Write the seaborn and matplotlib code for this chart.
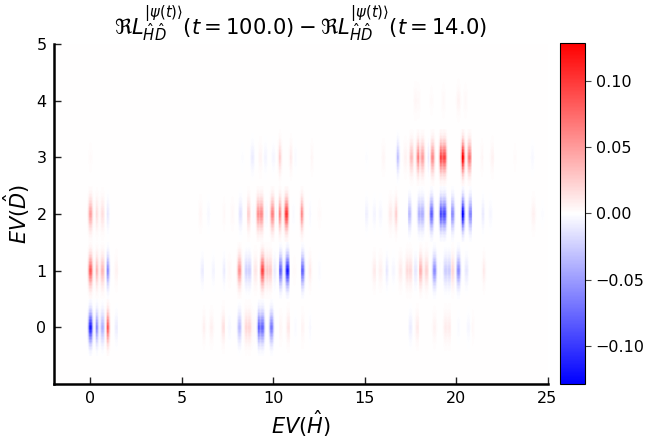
import numpy as np
import seaborn as sns
import matplotlib
matplotlib.use('Agg')
import matplotlib.pyplot as plt

# stripes: eigenvalue of H and amplitude, one pair of lists per D band
h_d0 = [0.0, 0.36, 0.64, 0.95, 1.4, 6.2, 6.6, 7.23, 7.6, 8.14, 8.5, 8.7, 8.9, 9.2, 9.4, 9.89, 10.38, 10.8, 11.2, 11.6, 12.0,
        17.48, 17.85, 18.8, 19.4, 19.6, 20.1, 20.67, 20.9]
v_d0 = [-0.12, -0.06, -0.04, 0.085, -0.01, 0.008, 0.007, 0.015, -0.004, -0.035, 0.02, 0.02, 0.003, -0.08, -0.08, -0.07, 0.004, 0.012, -0.003, 0.005, -0.004,
        -0.01, 0.01, 0.006, 0.009, 0.009, -0.003, -0.005, 0.003]

h_d1 = [0.0, 0.36, 0.64, 0.95, 1.4, 6.1, 6.7, 7.3, 7.6, 8.16, 8.5, 8.7, 9.0, 9.4, 9.65, 9.85, 10.05, 10.38, 10.75, 11.15, 11.58, 12.0, 12.5,
        15.48, 15.84, 16.2, 16.57, 16.94, 17.3, 17.5, 17.75, 18.03, 18.34, 18.8, 19.12, 19.4, 19.6, 19.8, 20.09, 20.54, 21.49]
v_d1 = [0.085, 0.036, 0.036, -0.06, 0.006, -0.01, -0.006, -0.01, 0.003, 0.055, -0.024, -0.024, 0.012, 0.095, 0.026, 0.026, -0.01, -0.08, -0.12, 0.002, -0.08, 0.01, -0.003,
        0.01, 0.007, -0.012, -0.005, 0.01, 0.018, 0.018, -0.012, 0.04, 0.022, -0.06, -0.003, -0.026, -0.026, 0.02, -0.06, -0.012, 0.01]

h_d2 = [0.0, 0.36, 0.64, 0.95, 6.0, 6.46, 7.3, 7.74, 8.2, 8.65, 8.9, 9.15, 9.35, 9.6, 9.94, 10.16, 10.36, 10.7, 11.1, 11.55, 12.0, 12.5,
        15.1, 15.5, 15.84, 16.4, 16.72, 17.45, 17.93, 18.13, 18.5, 18.67, 19.17, 19.37, 19.8, 20.34, 20.76, 21.45, 21.85, 24.2, 24.7]
v_d2 = [0.05, 0.016, 0.016, -0.012, 0.004, -0.004, 0.003, 0.003, -0.015, 0.024, -0.003, 0.06, 0.06, -0.005, 0.065, -0.005, 0.06, 0.105, -0.003, 0.06, -0.004, 0.002,
        -0.008, -0.006, -0.005, 0.01, 0.024, -0.035, -0.042, -0.042, 0.008, -0.085, -0.095, -0.095, -0.06, -0.135, -0.065, -0.012, -0.005, 0.007, -0.002]

h_d3 = [0.0, 8.3, 8.83, 9.29, 9.56, 10.0, 10.33, 10.93, 11.2, 12.1,
        15.1, 16.0, 16.79, 17.2, 17.57, 17.88, 18.17, 18.5, 18.72, 19.17, 19.37, 20.34, 20.72, 21.4, 21.95, 23.2, 24.13]
v_d3 = [0.002, -0.002, -0.01, 0.005, -0.006, -0.005, 0.024, 0.01, -0.003, 0.004,
        -0.002, 0.004, -0.032, 0.006, 0.034, 0.065, 0.05, -0.012, 0.06, 0.095, 0.095, 0.135, 0.07, 0.004, 0.006, 0.002, -0.004]

h_d4 = [17.75, 17.94, 18.67, 19.3, 20.12, 20.5]
v_d4 = [0.004, 0.003, 0.002, 0.003, 0.006, 0.003]

stripe_profile = [0.1, 0.4, 0.85, 1.0, 0.85, 0.4, 0.1]
band_upper = [0.03, 0.04, 0.05, 0.07, 0.09, 0.12, 0.155, 0.195, 0.24, 0.29,
              0.35, 0.41, 0.48, 0.55, 0.63, 0.7, 0.78, 0.85, 0.92, 0.98]
band_profile = band_upper + band_upper[::-1]
background = 0.0005
color_limit = 0.1287

x_ticks = [0, 5, 10, 15, 20, 25]
y_ticks = [0, 1, 2, 3, 4, 5]
cbar_ticks = [-0.10, -0.05, 0.0, 0.05, 0.10]

bands = [(0, h_d0, v_d0), (1, h_d1, v_d1), (2, h_d2, v_d2), (3, h_d3, v_d3), (4, h_d4, v_d4)]

dx = 0.05
dy = 0.025
x_min, x_max = -2, 25
y_min, y_max = -1, 5
grid = np.full((round((y_max - y_min) / dy), round((x_max - x_min) / dx)), background)

for d, hs, vs in bands:
    j0 = round((d - y_min) / dy) - len(band_profile) // 2
    for h, v in zip(hs, vs):
        i0 = round((h - x_min) / dx) - len(stripe_profile) // 2
        for a, sp in enumerate(stripe_profile):
            for b, bp in enumerate(band_profile):
                grid[j0 + b, i0 + a] += v * sp * bp

fig = plt.figure(figsize=(6.45, 4.41), dpi=100)
W, H = 645, 441
ax = fig.add_axes([53.5 / W, (H - 384) / H, 494 / W, 340 / H])
cax = fig.add_axes([559.5 / W, (H - 384) / H, 25 / W, 341 / H])

sns.heatmap(grid, ax=ax, cbar_ax=cax, cmap='bwr', vmin=-color_limit, vmax=color_limit,
            xticklabels=False, yticklabels=False, rasterized=True)
ax.invert_yaxis()

ax.set_xticks([(t - x_min) / dx for t in x_ticks])
ax.set_xticklabels([str(t) for t in x_ticks], rotation=0)
ax.set_yticks([(t - y_min) / dy for t in y_ticks])
ax.set_yticklabels([str(t) for t in y_ticks], rotation=0)
ax.tick_params(direction='in', length=5, width=1, labelsize=11.5, color='#222222', pad=5)
for side in ['top', 'right']:
    ax.spines[side].set_visible(False)
for side in ['left', 'bottom']:
    ax.spines[side].set_visible(True)
    ax.spines[side].set_linewidth(1.8)
    ax.spines[side].set_color('black')

ax.set_xlabel(r'$EV(\hat{H})$', fontsize=15, labelpad=2)
ax.set_ylabel(r'$EV(\hat{D})$', fontsize=15, labelpad=3)
ax.set_title(r'$\Re L_{\hat{H}\hat{D}}^{|\psi(t)\rangle}(t = 100.0) - \Re L_{\hat{H}\hat{D}}^{|\psi(t)\rangle}(t = 14.0)$',
             fontsize=15.2, pad=4)

cbar = ax.collections[0].colorbar
cbar.set_ticks(cbar_ticks)
cbar.set_ticklabels(['\u22120.10', '\u22120.05', '0.00', '0.05', '0.10'])
cbar.ax.tick_params(labelsize=11.5, length=4, width=0.8, color='#444444', pad=4)
cbar.outline.set_visible(True)
cbar.outline.set_edgecolor('black')
cbar.outline.set_linewidth(0.8)

fig.savefig('out.png', dpi=100)
